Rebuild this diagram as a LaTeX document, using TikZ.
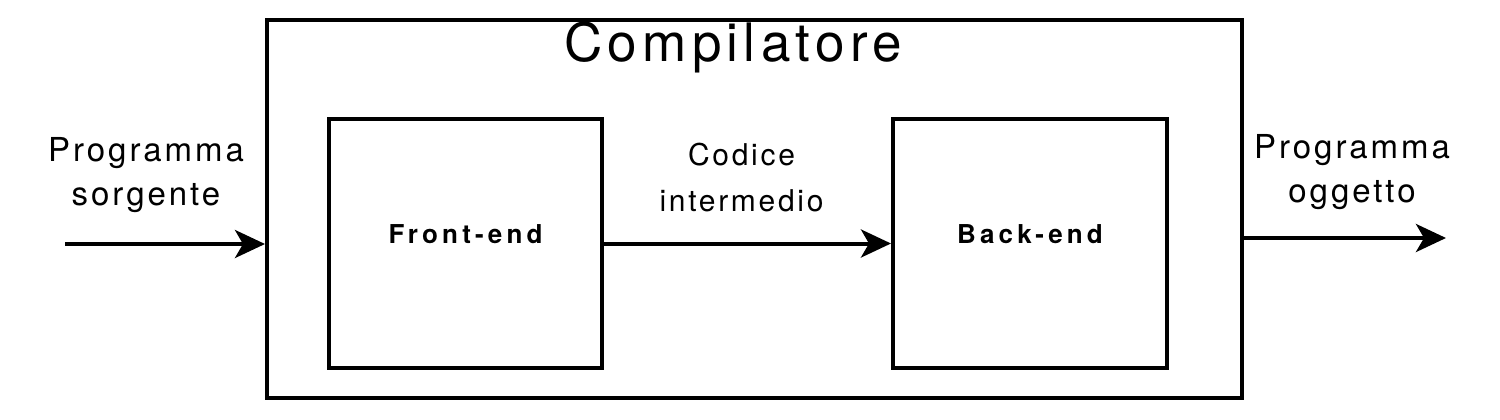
\documentclass[tikz,border=0pt]{standalone}
\usepackage{fontspec}
\setmainfont{TeX Gyre Heros}
\newfontfamily\lblfont[LetterSpace=9]{TeX Gyre Heros}
\newfontfamily\titlefont[LetterSpace=10]{TeX Gyre Heros}
\newfontfamily\blockfont[LetterSpace=16]{TeX Gyre Heros}
\usetikzlibrary{arrows.meta}

\begin{document}
\begin{tikzpicture}[x=1pt,y=-1pt,line width=4pt,
    box/.style={draw,minimum width=#1,minimum height=249pt,inner sep=0pt},
    blk/.style={anchor=base,inner sep=0pt,font=\blockfont\bfseries\fontsize{26}{30}\selectfont},
    lbl/.style={inner sep=0pt,align=center,font=\lblfont\fontsize{33}{44}\selectfont},
    flow/.style={-{Stealth[length=30pt,width=28pt,inset=8pt]}}]
      \useasboundingbox (0,0) rectangle (1500,420);
      \node[draw,minimum width=975pt,minimum height=378pt] (COMP) at (754.5,209) {};
      \node[anchor=base,inner sep=0pt,font=\titlefont\fontsize{53}{60}\selectfont] (TIT) at (733,62) {Compilatore};
      \node[box=273pt] (FE) at (465.5,243.5) {};
      \node[box=274pt] (BE) at (1030,243.5) {};
      \node[blk] (FEL) at (FE.center) {Front-end};
      \node[blk] (BEL) at (BE.center) {Back-end};

      \coordinate (SRC) at (65,244);
      \coordinate (OUT) at (1446,238);
      \node[lbl] (PS) at (146,175) {Programma\\sorgente};
      \node[lbl] (PO) at (1352,172) {Programma\\oggetto};

      \draw[flow] (SRC) to (SRC -| COMP.west);
      \draw[flow] (FE) to node[lbl,above=30pt,xshift=-6pt,font=\lblfont\fontsize{30}{46}\selectfont] (CI) {Codice\\intermedio} (BE);
      \draw[flow] (OUT -| COMP.east) to (OUT);
    \end{tikzpicture}
\end{document}
